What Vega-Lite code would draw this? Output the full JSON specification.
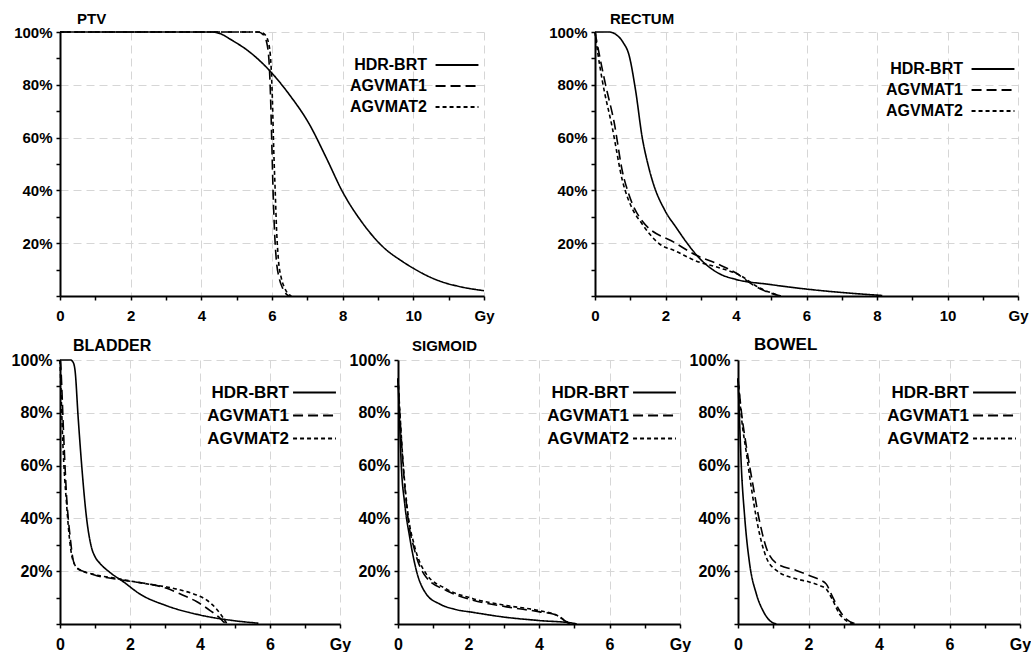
{
  "$schema": "https://vega.github.io/schema/vega-lite/v6.json",
  "background": "white",
  "padding": {"left": 11, "top": 12, "right": 0, "bottom": 0},
  "config": {
    "view": {"stroke": null},
    "font": "Liberation Sans",
    "axis": {
      "title": null,
      "domainColor": "black",
      "domainWidth": 2,
      "tickColor": "black",
      "tickWidth": 1.5,
      "tickSize": 4,
      "labelFont": "Liberation Sans",
      "labelFontWeight": "bold",
      "labelFontSize": 15,
      "labelColor": "black",
      "labelOverlap": false,
      "labelFlush": false,
      "gridColor": "#d6d6d6",
      "gridDash": [8, 5],
      "gridWidth": 1
    },
    "axisX": {"labelPadding": 8},
    "axisY": {"labelPadding": 4},
    "title": {
      "anchor": "start",
      "frame": "group",
      "font": "Liberation Sans",
      "fontWeight": "bold",
      "fontSize": 15,
      "color": "black",
      "baseline": "alphabetic",
      "offset": -2
    },
    "legend": {
      "orient": "none",
      "title": null,
      "symbolType": "M-4,0H4",
      "symbolSize": 115,
      "symbolStrokeWidth": 1.8,
      "symbolStrokeColor": "black",
      "labelAlign": "right",
      "labelOffset": -38,
      "labelFont": "Liberation Sans",
      "labelFontSize": 16,
      "labelFontWeight": "bold",
      "labelColor": "black",
      "rowPadding": 5,
      "padding": 0
    }
  },
  "data": {
    "values": [
      {"organ": "PTV", "plan": "HDR-BRT", "dose": 0, "volume": 100},
      {"organ": "PTV", "plan": "HDR-BRT", "dose": 4.3, "volume": 100},
      {"organ": "PTV", "plan": "HDR-BRT", "dose": 4.6, "volume": 99},
      {"organ": "PTV", "plan": "HDR-BRT", "dose": 4.79, "volume": 97.5},
      {"organ": "PTV", "plan": "HDR-BRT", "dose": 5.36, "volume": 92.5},
      {"organ": "PTV", "plan": "HDR-BRT", "dose": 6.0, "volume": 84.4},
      {"organ": "PTV", "plan": "HDR-BRT", "dose": 6.49, "volume": 76.3},
      {"organ": "PTV", "plan": "HDR-BRT", "dose": 7.06, "volume": 65},
      {"organ": "PTV", "plan": "HDR-BRT", "dose": 7.53, "volume": 52.5},
      {"organ": "PTV", "plan": "HDR-BRT", "dose": 8.0, "volume": 39.4},
      {"organ": "PTV", "plan": "HDR-BRT", "dose": 8.57, "volume": 27.5},
      {"organ": "PTV", "plan": "HDR-BRT", "dose": 9.13, "volume": 18.75},
      {"organ": "PTV", "plan": "HDR-BRT", "dose": 9.7, "volume": 13},
      {"organ": "PTV", "plan": "HDR-BRT", "dose": 10.0, "volume": 10.5},
      {"organ": "PTV", "plan": "HDR-BRT", "dose": 10.4, "volume": 7.6},
      {"organ": "PTV", "plan": "HDR-BRT", "dose": 10.8, "volume": 5.4},
      {"organ": "PTV", "plan": "HDR-BRT", "dose": 11.3, "volume": 3.6},
      {"organ": "PTV", "plan": "HDR-BRT", "dose": 12, "volume": 2},
      {"organ": "PTV", "plan": "AGVMAT1", "dose": 0, "volume": 100},
      {"organ": "PTV", "plan": "AGVMAT1", "dose": 5.6, "volume": 100},
      {"organ": "PTV", "plan": "AGVMAT1", "dose": 5.75, "volume": 99},
      {"organ": "PTV", "plan": "AGVMAT1", "dose": 5.85, "volume": 96},
      {"organ": "PTV", "plan": "AGVMAT1", "dose": 5.92, "volume": 88},
      {"organ": "PTV", "plan": "AGVMAT1", "dose": 5.96, "volume": 75},
      {"organ": "PTV", "plan": "AGVMAT1", "dose": 6.0, "volume": 55},
      {"organ": "PTV", "plan": "AGVMAT1", "dose": 6.03, "volume": 40},
      {"organ": "PTV", "plan": "AGVMAT1", "dose": 6.07, "volume": 25},
      {"organ": "PTV", "plan": "AGVMAT1", "dose": 6.12, "volume": 14},
      {"organ": "PTV", "plan": "AGVMAT1", "dose": 6.2, "volume": 7},
      {"organ": "PTV", "plan": "AGVMAT1", "dose": 6.3, "volume": 3},
      {"organ": "PTV", "plan": "AGVMAT1", "dose": 6.42, "volume": 0.5},
      {"organ": "PTV", "plan": "AGVMAT1", "dose": 6.48, "volume": 0},
      {"organ": "PTV", "plan": "AGVMAT2", "dose": 0, "volume": 100},
      {"organ": "PTV", "plan": "AGVMAT2", "dose": 5.65, "volume": 100},
      {"organ": "PTV", "plan": "AGVMAT2", "dose": 5.8, "volume": 99},
      {"organ": "PTV", "plan": "AGVMAT2", "dose": 5.9, "volume": 96},
      {"organ": "PTV", "plan": "AGVMAT2", "dose": 5.97, "volume": 88},
      {"organ": "PTV", "plan": "AGVMAT2", "dose": 6.01, "volume": 75},
      {"organ": "PTV", "plan": "AGVMAT2", "dose": 6.05, "volume": 55},
      {"organ": "PTV", "plan": "AGVMAT2", "dose": 6.09, "volume": 40},
      {"organ": "PTV", "plan": "AGVMAT2", "dose": 6.13, "volume": 25},
      {"organ": "PTV", "plan": "AGVMAT2", "dose": 6.18, "volume": 14},
      {"organ": "PTV", "plan": "AGVMAT2", "dose": 6.26, "volume": 7},
      {"organ": "PTV", "plan": "AGVMAT2", "dose": 6.36, "volume": 3},
      {"organ": "PTV", "plan": "AGVMAT2", "dose": 6.48, "volume": 0.5},
      {"organ": "PTV", "plan": "AGVMAT2", "dose": 6.55, "volume": 0},

      {"organ": "RECTUM", "plan": "HDR-BRT", "dose": 0, "volume": 100},
      {"organ": "RECTUM", "plan": "HDR-BRT", "dose": 0.4, "volume": 100},
      {"organ": "RECTUM", "plan": "HDR-BRT", "dose": 0.6, "volume": 99},
      {"organ": "RECTUM", "plan": "HDR-BRT", "dose": 0.8, "volume": 96},
      {"organ": "RECTUM", "plan": "HDR-BRT", "dose": 0.96, "volume": 91.5},
      {"organ": "RECTUM", "plan": "HDR-BRT", "dose": 1.15, "volume": 78},
      {"organ": "RECTUM", "plan": "HDR-BRT", "dose": 1.34, "volume": 60},
      {"organ": "RECTUM", "plan": "HDR-BRT", "dose": 1.5, "volume": 50},
      {"organ": "RECTUM", "plan": "HDR-BRT", "dose": 1.63, "volume": 43.6},
      {"organ": "RECTUM", "plan": "HDR-BRT", "dose": 2.0, "volume": 32},
      {"organ": "RECTUM", "plan": "HDR-BRT", "dose": 2.3, "volume": 26},
      {"organ": "RECTUM", "plan": "HDR-BRT", "dose": 2.57, "volume": 20.8},
      {"organ": "RECTUM", "plan": "HDR-BRT", "dose": 2.95, "volume": 14.5},
      {"organ": "RECTUM", "plan": "HDR-BRT", "dose": 3.52, "volume": 8.5},
      {"organ": "RECTUM", "plan": "HDR-BRT", "dose": 3.99, "volume": 6.3},
      {"organ": "RECTUM", "plan": "HDR-BRT", "dose": 4.94, "volume": 4.4},
      {"organ": "RECTUM", "plan": "HDR-BRT", "dose": 5.88, "volume": 2.8},
      {"organ": "RECTUM", "plan": "HDR-BRT", "dose": 7.3, "volume": 1},
      {"organ": "RECTUM", "plan": "HDR-BRT", "dose": 8.15, "volume": 0.2},
      {"organ": "RECTUM", "plan": "AGVMAT1", "dose": 0, "volume": 100},
      {"organ": "RECTUM", "plan": "AGVMAT1", "dose": 0.1, "volume": 93},
      {"organ": "RECTUM", "plan": "AGVMAT1", "dose": 0.3, "volume": 80},
      {"organ": "RECTUM", "plan": "AGVMAT1", "dose": 0.54, "volume": 66},
      {"organ": "RECTUM", "plan": "AGVMAT1", "dose": 0.78, "volume": 47},
      {"organ": "RECTUM", "plan": "AGVMAT1", "dose": 0.96, "volume": 38.5},
      {"organ": "RECTUM", "plan": "AGVMAT1", "dose": 1.34, "volume": 28.4},
      {"organ": "RECTUM", "plan": "AGVMAT1", "dose": 2.29, "volume": 20},
      {"organ": "RECTUM", "plan": "AGVMAT1", "dose": 2.86, "volume": 15.5},
      {"organ": "RECTUM", "plan": "AGVMAT1", "dose": 3.5, "volume": 12},
      {"organ": "RECTUM", "plan": "AGVMAT1", "dose": 3.99, "volume": 8.8},
      {"organ": "RECTUM", "plan": "AGVMAT1", "dose": 4.46, "volume": 4.4},
      {"organ": "RECTUM", "plan": "AGVMAT1", "dose": 4.94, "volume": 1.3},
      {"organ": "RECTUM", "plan": "AGVMAT1", "dose": 5.27, "volume": 0},
      {"organ": "RECTUM", "plan": "AGVMAT2", "dose": 0, "volume": 100},
      {"organ": "RECTUM", "plan": "AGVMAT2", "dose": 0.08, "volume": 92},
      {"organ": "RECTUM", "plan": "AGVMAT2", "dose": 0.21, "volume": 81.4},
      {"organ": "RECTUM", "plan": "AGVMAT2", "dose": 0.49, "volume": 63.8},
      {"organ": "RECTUM", "plan": "AGVMAT2", "dose": 0.78, "volume": 43.6},
      {"organ": "RECTUM", "plan": "AGVMAT2", "dose": 1.06, "volume": 33},
      {"organ": "RECTUM", "plan": "AGVMAT2", "dose": 1.3, "volume": 28},
      {"organ": "RECTUM", "plan": "AGVMAT2", "dose": 1.8, "volume": 20},
      {"organ": "RECTUM", "plan": "AGVMAT2", "dose": 2.29, "volume": 17},
      {"organ": "RECTUM", "plan": "AGVMAT2", "dose": 2.86, "volume": 13.3},
      {"organ": "RECTUM", "plan": "AGVMAT2", "dose": 3.52, "volume": 10.7},
      {"organ": "RECTUM", "plan": "AGVMAT2", "dose": 4.09, "volume": 8},
      {"organ": "RECTUM", "plan": "AGVMAT2", "dose": 4.65, "volume": 3.2},
      {"organ": "RECTUM", "plan": "AGVMAT2", "dose": 5.13, "volume": 0.6},
      {"organ": "RECTUM", "plan": "AGVMAT2", "dose": 5.27, "volume": 0},

      {"organ": "BLADDER", "plan": "HDR-BRT", "dose": 0, "volume": 100},
      {"organ": "BLADDER", "plan": "HDR-BRT", "dose": 0.3, "volume": 100},
      {"organ": "BLADDER", "plan": "HDR-BRT", "dose": 0.38, "volume": 99},
      {"organ": "BLADDER", "plan": "HDR-BRT", "dose": 0.43, "volume": 96},
      {"organ": "BLADDER", "plan": "HDR-BRT", "dose": 0.52, "volume": 78},
      {"organ": "BLADDER", "plan": "HDR-BRT", "dose": 0.62, "volume": 60},
      {"organ": "BLADDER", "plan": "HDR-BRT", "dose": 0.76, "volume": 40},
      {"organ": "BLADDER", "plan": "HDR-BRT", "dose": 0.9, "volume": 29},
      {"organ": "BLADDER", "plan": "HDR-BRT", "dose": 1.0, "volume": 25.5},
      {"organ": "BLADDER", "plan": "HDR-BRT", "dose": 1.14, "volume": 23},
      {"organ": "BLADDER", "plan": "HDR-BRT", "dose": 1.43, "volume": 19.5},
      {"organ": "BLADDER", "plan": "HDR-BRT", "dose": 1.81, "volume": 16},
      {"organ": "BLADDER", "plan": "HDR-BRT", "dose": 2.29, "volume": 11.3},
      {"organ": "BLADDER", "plan": "HDR-BRT", "dose": 3.05, "volume": 6.9},
      {"organ": "BLADDER", "plan": "HDR-BRT", "dose": 4.0, "volume": 3.4},
      {"organ": "BLADDER", "plan": "HDR-BRT", "dose": 4.95, "volume": 1.3},
      {"organ": "BLADDER", "plan": "HDR-BRT", "dose": 5.67, "volume": 0.3},
      {"organ": "BLADDER", "plan": "AGVMAT1", "dose": 0, "volume": 100},
      {"organ": "BLADDER", "plan": "AGVMAT1", "dose": 0.03, "volume": 96},
      {"organ": "BLADDER", "plan": "AGVMAT1", "dose": 0.05, "volume": 90},
      {"organ": "BLADDER", "plan": "AGVMAT1", "dose": 0.1, "volume": 73},
      {"organ": "BLADDER", "plan": "AGVMAT1", "dose": 0.19, "volume": 48},
      {"organ": "BLADDER", "plan": "AGVMAT1", "dose": 0.29, "volume": 33},
      {"organ": "BLADDER", "plan": "AGVMAT1", "dose": 0.38, "volume": 24},
      {"organ": "BLADDER", "plan": "AGVMAT1", "dose": 0.5, "volume": 21},
      {"organ": "BLADDER", "plan": "AGVMAT1", "dose": 0.7, "volume": 19.8},
      {"organ": "BLADDER", "plan": "AGVMAT1", "dose": 1.05, "volume": 18.3},
      {"organ": "BLADDER", "plan": "AGVMAT1", "dose": 1.6, "volume": 17},
      {"organ": "BLADDER", "plan": "AGVMAT1", "dose": 2.1, "volume": 16},
      {"organ": "BLADDER", "plan": "AGVMAT1", "dose": 2.6, "volume": 15},
      {"organ": "BLADDER", "plan": "AGVMAT1", "dose": 3.05, "volume": 13.5},
      {"organ": "BLADDER", "plan": "AGVMAT1", "dose": 3.5, "volume": 11},
      {"organ": "BLADDER", "plan": "AGVMAT1", "dose": 3.9, "volume": 8.5},
      {"organ": "BLADDER", "plan": "AGVMAT1", "dose": 4.3, "volume": 5},
      {"organ": "BLADDER", "plan": "AGVMAT1", "dose": 4.55, "volume": 2.5},
      {"organ": "BLADDER", "plan": "AGVMAT1", "dose": 4.7, "volume": 0.5},
      {"organ": "BLADDER", "plan": "AGVMAT1", "dose": 4.76, "volume": 0},
      {"organ": "BLADDER", "plan": "AGVMAT2", "dose": 0, "volume": 100},
      {"organ": "BLADDER", "plan": "AGVMAT2", "dose": 0.02, "volume": 92},
      {"organ": "BLADDER", "plan": "AGVMAT2", "dose": 0.04, "volume": 84},
      {"organ": "BLADDER", "plan": "AGVMAT2", "dose": 0.08, "volume": 69},
      {"organ": "BLADDER", "plan": "AGVMAT2", "dose": 0.19, "volume": 45},
      {"organ": "BLADDER", "plan": "AGVMAT2", "dose": 0.3, "volume": 29},
      {"organ": "BLADDER", "plan": "AGVMAT2", "dose": 0.42, "volume": 22.5},
      {"organ": "BLADDER", "plan": "AGVMAT2", "dose": 0.6, "volume": 20.3},
      {"organ": "BLADDER", "plan": "AGVMAT2", "dose": 0.9, "volume": 19},
      {"organ": "BLADDER", "plan": "AGVMAT2", "dose": 1.6, "volume": 17.3},
      {"organ": "BLADDER", "plan": "AGVMAT2", "dose": 2.57, "volume": 15},
      {"organ": "BLADDER", "plan": "AGVMAT2", "dose": 3.05, "volume": 14},
      {"organ": "BLADDER", "plan": "AGVMAT2", "dose": 3.52, "volume": 12.6},
      {"organ": "BLADDER", "plan": "AGVMAT2", "dose": 3.9, "volume": 11},
      {"organ": "BLADDER", "plan": "AGVMAT2", "dose": 4.2, "volume": 9},
      {"organ": "BLADDER", "plan": "AGVMAT2", "dose": 4.45, "volume": 6},
      {"organ": "BLADDER", "plan": "AGVMAT2", "dose": 4.6, "volume": 3.5},
      {"organ": "BLADDER", "plan": "AGVMAT2", "dose": 4.76, "volume": 0.3},

      {"organ": "SIGMOID", "plan": "HDR-BRT", "dose": 0, "volume": 93},
      {"organ": "SIGMOID", "plan": "HDR-BRT", "dose": 0.05, "volume": 75},
      {"organ": "SIGMOID", "plan": "HDR-BRT", "dose": 0.09, "volume": 61},
      {"organ": "SIGMOID", "plan": "HDR-BRT", "dose": 0.19, "volume": 45.6},
      {"organ": "SIGMOID", "plan": "HDR-BRT", "dose": 0.33, "volume": 33},
      {"organ": "SIGMOID", "plan": "HDR-BRT", "dose": 0.52, "volume": 20.3},
      {"organ": "SIGMOID", "plan": "HDR-BRT", "dose": 0.8, "volume": 11.4},
      {"organ": "SIGMOID", "plan": "HDR-BRT", "dose": 1.18, "volume": 7.6},
      {"organ": "SIGMOID", "plan": "HDR-BRT", "dose": 1.6, "volume": 5.6},
      {"organ": "SIGMOID", "plan": "HDR-BRT", "dose": 2.13, "volume": 4.4},
      {"organ": "SIGMOID", "plan": "HDR-BRT", "dose": 3.08, "volume": 2.5},
      {"organ": "SIGMOID", "plan": "HDR-BRT", "dose": 4.02, "volume": 1.3},
      {"organ": "SIGMOID", "plan": "HDR-BRT", "dose": 4.97, "volume": 0.3},
      {"organ": "SIGMOID", "plan": "HDR-BRT", "dose": 5.07, "volume": 0},
      {"organ": "SIGMOID", "plan": "AGVMAT1", "dose": 0, "volume": 93},
      {"organ": "SIGMOID", "plan": "AGVMAT1", "dose": 0.05, "volume": 80},
      {"organ": "SIGMOID", "plan": "AGVMAT1", "dose": 0.14, "volume": 61},
      {"organ": "SIGMOID", "plan": "AGVMAT1", "dose": 0.28, "volume": 40.5},
      {"organ": "SIGMOID", "plan": "AGVMAT1", "dose": 0.47, "volume": 28},
      {"organ": "SIGMOID", "plan": "AGVMAT1", "dose": 0.8, "volume": 17.7},
      {"organ": "SIGMOID", "plan": "AGVMAT1", "dose": 1.37, "volume": 12.7},
      {"organ": "SIGMOID", "plan": "AGVMAT1", "dose": 2.13, "volume": 9},
      {"organ": "SIGMOID", "plan": "AGVMAT1", "dose": 3.08, "volume": 6.5},
      {"organ": "SIGMOID", "plan": "AGVMAT1", "dose": 4.02, "volume": 4.6},
      {"organ": "SIGMOID", "plan": "AGVMAT1", "dose": 4.5, "volume": 3.4},
      {"organ": "SIGMOID", "plan": "AGVMAT1", "dose": 4.7, "volume": 1.5},
      {"organ": "SIGMOID", "plan": "AGVMAT1", "dose": 4.88, "volume": 0},
      {"organ": "SIGMOID", "plan": "AGVMAT2", "dose": 0, "volume": 93},
      {"organ": "SIGMOID", "plan": "AGVMAT2", "dose": 0.05, "volume": 81},
      {"organ": "SIGMOID", "plan": "AGVMAT2", "dose": 0.14, "volume": 62},
      {"organ": "SIGMOID", "plan": "AGVMAT2", "dose": 0.28, "volume": 42},
      {"organ": "SIGMOID", "plan": "AGVMAT2", "dose": 0.47, "volume": 29.5},
      {"organ": "SIGMOID", "plan": "AGVMAT2", "dose": 0.8, "volume": 19},
      {"organ": "SIGMOID", "plan": "AGVMAT2", "dose": 1.37, "volume": 13.3},
      {"organ": "SIGMOID", "plan": "AGVMAT2", "dose": 2.13, "volume": 9.6},
      {"organ": "SIGMOID", "plan": "AGVMAT2", "dose": 3.08, "volume": 7},
      {"organ": "SIGMOID", "plan": "AGVMAT2", "dose": 4.02, "volume": 5},
      {"organ": "SIGMOID", "plan": "AGVMAT2", "dose": 4.55, "volume": 3},
      {"organ": "SIGMOID", "plan": "AGVMAT2", "dose": 4.75, "volume": 1.2},
      {"organ": "SIGMOID", "plan": "AGVMAT2", "dose": 4.88, "volume": 0},

      {"organ": "BOWEL", "plan": "HDR-BRT", "dose": 0, "volume": 93},
      {"organ": "BOWEL", "plan": "HDR-BRT", "dose": 0.05, "volume": 75},
      {"organ": "BOWEL", "plan": "HDR-BRT", "dose": 0.09, "volume": 61},
      {"organ": "BOWEL", "plan": "HDR-BRT", "dose": 0.19, "volume": 40.5},
      {"organ": "BOWEL", "plan": "HDR-BRT", "dose": 0.33, "volume": 22.8},
      {"organ": "BOWEL", "plan": "HDR-BRT", "dose": 0.52, "volume": 11.4},
      {"organ": "BOWEL", "plan": "HDR-BRT", "dose": 0.71, "volume": 5},
      {"organ": "BOWEL", "plan": "HDR-BRT", "dose": 0.9, "volume": 1.3},
      {"organ": "BOWEL", "plan": "HDR-BRT", "dose": 1.09, "volume": 0},
      {"organ": "BOWEL", "plan": "AGVMAT1", "dose": 0, "volume": 93},
      {"organ": "BOWEL", "plan": "AGVMAT1", "dose": 0.1, "volume": 80},
      {"organ": "BOWEL", "plan": "AGVMAT1", "dose": 0.24, "volume": 67},
      {"organ": "BOWEL", "plan": "AGVMAT1", "dose": 0.42, "volume": 53},
      {"organ": "BOWEL", "plan": "AGVMAT1", "dose": 0.61, "volume": 39},
      {"organ": "BOWEL", "plan": "AGVMAT1", "dose": 0.8, "volume": 29},
      {"organ": "BOWEL", "plan": "AGVMAT1", "dose": 1.09, "volume": 23},
      {"organ": "BOWEL", "plan": "AGVMAT1", "dose": 1.65, "volume": 20.3},
      {"organ": "BOWEL", "plan": "AGVMAT1", "dose": 2.0, "volume": 18.5},
      {"organ": "BOWEL", "plan": "AGVMAT1", "dose": 2.31, "volume": 16.8},
      {"organ": "BOWEL", "plan": "AGVMAT1", "dose": 2.5, "volume": 15.2},
      {"organ": "BOWEL", "plan": "AGVMAT1", "dose": 2.69, "volume": 10.1},
      {"organ": "BOWEL", "plan": "AGVMAT1", "dose": 2.88, "volume": 5.1},
      {"organ": "BOWEL", "plan": "AGVMAT1", "dose": 3.07, "volume": 1.9},
      {"organ": "BOWEL", "plan": "AGVMAT1", "dose": 3.35, "volume": 0},
      {"organ": "BOWEL", "plan": "AGVMAT2", "dose": 0, "volume": 93},
      {"organ": "BOWEL", "plan": "AGVMAT2", "dose": 0.1, "volume": 78},
      {"organ": "BOWEL", "plan": "AGVMAT2", "dose": 0.24, "volume": 64.6},
      {"organ": "BOWEL", "plan": "AGVMAT2", "dose": 0.42, "volume": 48},
      {"organ": "BOWEL", "plan": "AGVMAT2", "dose": 0.61, "volume": 34.2},
      {"organ": "BOWEL", "plan": "AGVMAT2", "dose": 0.8, "volume": 25.3},
      {"organ": "BOWEL", "plan": "AGVMAT2", "dose": 1.09, "volume": 20.3},
      {"organ": "BOWEL", "plan": "AGVMAT2", "dose": 1.65, "volume": 17.1},
      {"organ": "BOWEL", "plan": "AGVMAT2", "dose": 2.0, "volume": 16},
      {"organ": "BOWEL", "plan": "AGVMAT2", "dose": 2.31, "volume": 14.6},
      {"organ": "BOWEL", "plan": "AGVMAT2", "dose": 2.5, "volume": 13.3},
      {"organ": "BOWEL", "plan": "AGVMAT2", "dose": 2.69, "volume": 8.9},
      {"organ": "BOWEL", "plan": "AGVMAT2", "dose": 2.88, "volume": 3.8},
      {"organ": "BOWEL", "plan": "AGVMAT2", "dose": 3.07, "volume": 1.3},
      {"organ": "BOWEL", "plan": "AGVMAT2", "dose": 3.26, "volume": 0}
    ]
  },
  "spacing": 13,
  "resolve": {"scale": {"strokeDash": "independent"}, "legend": {"strokeDash": "independent"}},
  "vconcat": [
    {
      "bounds": "flush",
      "spacing": 111,
      "resolve": {"scale": {"strokeDash": "independent"}, "legend": {"strokeDash": "independent"}},
      "hconcat": [
        {
          "width": 424, "height": 264,
          "title": {"text": "PTV", "dx": 17},
          "transform": [{"filter": "datum.organ === 'PTV'"}],
          "mark": {"type": "line", "color": "black", "strokeWidth": 1.6, "interpolate": "monotone"},
          "encoding": {
            "x": {"field": "dose", "type": "quantitative", "scale": {"domain": [0, 12], "nice": false},
              "axis": {"values": [0,1,2,3,4,5,6,7,8,9,10,11,12],
                "labelExpr": "datum.value % 2 === 0 ? (datum.value === 12 ? 'Gy' : datum.label) : ''",
                "gridOpacity": {"condition": {"test": "datum.value % 2 !== 0 || datum.value === 0", "value": 0}, "value": 1}}},
            "y": {"field": "volume", "type": "quantitative", "scale": {"domain": [0, 100], "nice": false},
              "axis": {"values": [0,10,20,30,40,50,60,70,80,90,100],
                "labelExpr": "datum.value > 0 && datum.value % 20 === 0 ? datum.value + '%' : ''",
                "gridOpacity": {"condition": {"test": "datum.value % 20 !== 0 || datum.value === 0", "value": 0}, "value": 1}}},
            "strokeDash": {"field": "plan", "type": "nominal",
              "scale": {"domain": ["HDR-BRT", "AGVMAT1", "AGVMAT2"], "range": [[1, 0], [10, 5], [4, 3]]},
              "legend": {"legendX": 389, "legendY": 25}}
          }
        },
        {
          "width": 423, "height": 264,
          "title": {"text": "RECTUM", "dx": 15},
          "transform": [{"filter": "datum.organ === 'RECTUM'"}],
          "mark": {"type": "line", "color": "black", "strokeWidth": 1.6, "interpolate": "monotone"},
          "encoding": {
            "x": {"field": "dose", "type": "quantitative", "scale": {"domain": [0, 12], "nice": false},
              "axis": {"values": [0,1,2,3,4,5,6,7,8,9,10,11,12],
                "labelExpr": "datum.value % 2 === 0 ? (datum.value === 12 ? 'Gy' : datum.label) : ''",
                "gridOpacity": {"condition": {"test": "datum.value % 2 !== 0 || datum.value === 0", "value": 0}, "value": 1}}},
            "y": {"field": "volume", "type": "quantitative", "scale": {"domain": [0, 100], "nice": false},
              "axis": {"values": [0,10,20,30,40,50,60,70,80,90,100],
                "labelExpr": "datum.value > 0 && datum.value % 20 === 0 ? datum.value + '%' : ''",
                "gridOpacity": {"condition": {"test": "datum.value % 20 !== 0 || datum.value === 0", "value": 0}, "value": 1}}},
            "strokeDash": {"field": "plan", "type": "nominal",
              "scale": {"domain": ["HDR-BRT", "AGVMAT1", "AGVMAT2"], "range": [[1, 0], [10, 5], [4, 3]]},
              "legend": {"legendX": 390, "legendY": 29}}
          }
        }
      ]
    },
    {
      "bounds": "flush",
      "spacing": 58,
      "resolve": {"scale": {"strokeDash": "independent"}, "legend": {"strokeDash": "independent"}},
      "hconcat": [
        {
          "width": 280, "height": 264,
          "title": {"text": "BLADDER", "dx": 13, "fontSize": 16},
          "transform": [{"filter": "datum.organ === 'BLADDER'"}],
          "mark": {"type": "line", "color": "black", "strokeWidth": 1.6, "interpolate": "monotone"},
          "encoding": {
            "x": {"field": "dose", "type": "quantitative", "scale": {"domain": [0, 8], "nice": false},
              "axis": {"values": [0,1,2,3,4,5,6,7,8], "labelFontSize": 16,
                "labelExpr": "datum.value % 2 === 0 ? (datum.value === 8 ? 'Gy' : datum.label) : ''",
                "gridOpacity": {"condition": {"test": "datum.value % 2 !== 0 || datum.value === 0", "value": 0}, "value": 1}}},
            "y": {"field": "volume", "type": "quantitative", "scale": {"domain": [0, 100], "nice": false},
              "axis": {"values": [0,10,20,30,40,50,60,70,80,90,100], "labelFontSize": 16,
                "labelExpr": "datum.value > 0 && datum.value % 20 === 0 ? datum.value + '%' : ''",
                "gridOpacity": {"condition": {"test": "datum.value % 20 !== 0 || datum.value === 0", "value": 0}, "value": 1}}},
            "strokeDash": {"field": "plan", "type": "nominal",
              "scale": {"domain": ["HDR-BRT", "AGVMAT1", "AGVMAT2"], "range": [[1, 0], [10, 5], [4, 3]]},
              "legend": {"legendX": 246, "legendY": 24, "labelFontSize": 17, "labelOffset": -34}}
          }
        },
        {
          "width": 282, "height": 264,
          "title": {"text": "SIGMOID", "dx": 14},
          "transform": [{"filter": "datum.organ === 'SIGMOID'"}],
          "mark": {"type": "line", "color": "black", "strokeWidth": 1.6, "interpolate": "monotone"},
          "encoding": {
            "x": {"field": "dose", "type": "quantitative", "scale": {"domain": [0, 8], "nice": false},
              "axis": {"values": [0,1,2,3,4,5,6,7,8], "labelFontSize": 16,
                "labelExpr": "datum.value % 2 === 0 ? (datum.value === 8 ? 'Gy' : datum.label) : ''",
                "gridOpacity": {"condition": {"test": "datum.value % 2 !== 0 || datum.value === 0", "value": 0}, "value": 1}}},
            "y": {"field": "volume", "type": "quantitative", "scale": {"domain": [0, 100], "nice": false},
              "axis": {"values": [0,10,20,30,40,50,60,70,80,90,100], "labelFontSize": 16,
                "labelExpr": "datum.value > 0 && datum.value % 20 === 0 ? datum.value + '%' : ''",
                "gridOpacity": {"condition": {"test": "datum.value % 20 !== 0 || datum.value === 0", "value": 0}, "value": 1}}},
            "strokeDash": {"field": "plan", "type": "nominal",
              "scale": {"domain": ["HDR-BRT", "AGVMAT1", "AGVMAT2"], "range": [[1, 0], [10, 5], [4, 3]]},
              "legend": {"legendX": 248, "legendY": 24, "labelFontSize": 17, "labelOffset": -34}}
          }
        },
        {
          "width": 282, "height": 264,
          "title": {"text": "BOWEL", "dx": 16, "fontSize": 17},
          "transform": [{"filter": "datum.organ === 'BOWEL'"}],
          "mark": {"type": "line", "color": "black", "strokeWidth": 1.6, "interpolate": "monotone"},
          "encoding": {
            "x": {"field": "dose", "type": "quantitative", "scale": {"domain": [0, 8], "nice": false},
              "axis": {"values": [0,1,2,3,4,5,6,7,8], "labelFontSize": 16,
                "labelExpr": "datum.value % 2 === 0 ? (datum.value === 8 ? 'Gy' : datum.label) : ''",
                "gridOpacity": {"condition": {"test": "datum.value % 2 !== 0 || datum.value === 0", "value": 0}, "value": 1}}},
            "y": {"field": "volume", "type": "quantitative", "scale": {"domain": [0, 100], "nice": false},
              "axis": {"values": [0,10,20,30,40,50,60,70,80,90,100], "labelFontSize": 16,
                "labelExpr": "datum.value > 0 && datum.value % 20 === 0 ? datum.value + '%' : ''",
                "gridOpacity": {"condition": {"test": "datum.value % 20 !== 0 || datum.value === 0", "value": 0}, "value": 1}}},
            "strokeDash": {"field": "plan", "type": "nominal",
              "scale": {"domain": ["HDR-BRT", "AGVMAT1", "AGVMAT2"], "range": [[1, 0], [10, 5], [4, 3]]},
              "legend": {"legendX": 248, "legendY": 24, "labelFontSize": 17, "labelOffset": -34}}
          }
        }
      ]
    }
  ]
}
